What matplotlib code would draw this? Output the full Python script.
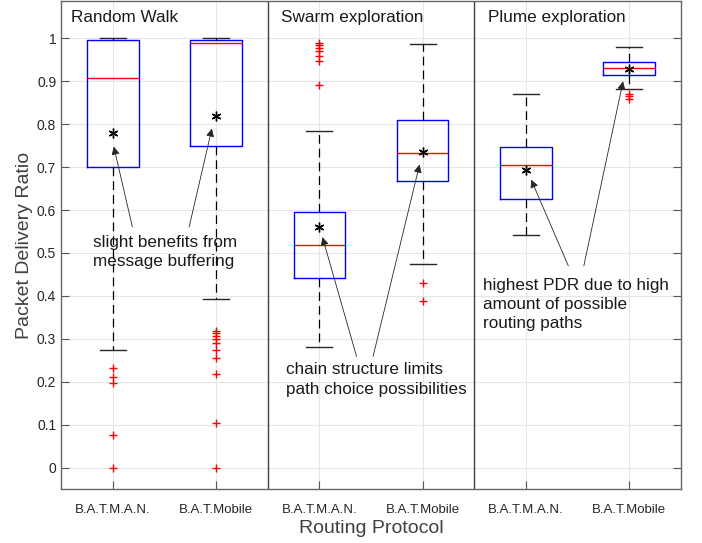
import matplotlib
matplotlib.use('Agg')
import matplotlib.pyplot as plt

plt.rcParams['font.family'] = ['Liberation Sans', 'DejaVu Sans']

# Box statistics (x = 1..6)
labels = ['B.A.T.M.A.N.', 'B.A.T.Mobile'] * 3
scenarios = ['Random Walk', 'Swarm exploration', 'Plume exploration']
whislo = [0.273, 0.392, 0.280, 0.475, 0.542, 0.883]
q1 = [0.700, 0.750, 0.442, 0.668, 0.626, 0.915]
med = [0.907, 0.990, 0.519, 0.733, 0.706, 0.932]
q3 = [0.997, 0.997, 0.596, 0.810, 0.748, 0.946]
whishi = [1.000, 1.000, 0.785, 0.988, 0.871, 0.981]
means = [0.780, 0.820, 0.561, 0.735, 0.693, 0.929]
fliers = [
    [0.231, 0.210, 0.196, 0.077, 0.0],
    [0.318, 0.313, 0.306, 0.299, 0.290, 0.275, 0.255, 0.218, 0.103, 0.0],
    [0.990, 0.984, 0.978, 0.970, 0.958, 0.947, 0.892],
    [0.430, 0.388],
    [],
    [0.871, 0.865, 0.859],
]

notes = [
    ('slight benefits from\nmessage buffering', (0.81, 0.503), [(1.19, 0.561, 1.01, 0.748), (1.74, 0.561, 1.96, 0.79)]),
    ('chain structure limits\npath choice possibilities', (2.68, 0.205), [(3.36, 0.259, 3.03, 0.537), (3.52, 0.259, 3.97, 0.706)]),
    ('highest PDR due to high\namount of possible\nrouting paths', (4.58, 0.38), [(5.41, 0.47, 5.05, 0.671), (5.56, 0.47, 5.94, 0.90)]),
]

def make_plot():
    fig = plt.figure(figsize=(7.02, 5.43), dpi=100)
    ax = fig.add_axes([0.087, 0.0994, 0.883, 0.8986])

    stats = []
    for i in range(6):
        stats.append(dict(whislo=whislo[i], q1=q1[i], med=med[i], q3=q3[i],
                          whishi=whishi[i], mean=means[i], fliers=fliers[i]))
    pos = list(range(1, 7))
    ax.bxp(stats, positions=pos, widths=0.5, showmeans=True,
           boxprops=dict(color='#0000ff', linewidth=1.0),
           medianprops=dict(color='#ff0000', linewidth=1.0),
           whiskerprops=dict(color='black', linestyle=(0, (7, 4)), linewidth=0.9),
           capprops=dict(color='#262626', linewidth=1.0),
           capwidths=0.25,
           flierprops=dict(marker='+', markeredgecolor='#ff0000', markersize=6, linestyle='none'),
           meanprops=dict(marker=(6, 2, 0), markerfacecolor='black', markeredgecolor='black',
                          markersize=7, markeredgewidth=1.0))

    ax.set_xlim(0.5, 6.5)
    ax.set_ylim(-0.05, 1.087)
    ax.set_yticks([i / 10 for i in range(11)])
    ax.set_yticklabels(['0'] + ['%.1f' % (i / 10) for i in range(1, 10)] + ['1'])
    ax.set_xticks(pos)
    ax.set_xticklabels(labels)
    ax.grid(True, color='#e6e6e6', linewidth=0.8)
    ax.set_axisbelow(True)
    ax.tick_params(direction='in', length=6, top=False, right=True, colors='#555555',
                   labelcolor='#262626', labelsize=10, width=0.8)
    ax.tick_params(axis='x', pad=11, labelsize=9.5)
    for s in ax.spines.values():
        s.set_color('#666666')
        s.set_linewidth(1.0)

    for xd in [2.5, 4.5]:
        ax.axvline(xd, color='#404040', linewidth=1.0)

    for k, name in enumerate(scenarios):
        ax.text([0.60, 2.63, 4.63][k], 1.048, name, fontsize=12.3, color='#1a1a1a', va='center')

    for txt, (tx, ty), arrows in notes:
        ax.text(tx, ty, txt, fontsize=12.3, color='#1a1a1a', va='center', linespacing=1.35)
        for x0, y0, x1, y1 in arrows:
            ax.annotate('', xy=(x1, y1), xytext=(x0, y0),
                        arrowprops=dict(arrowstyle='-|>', color='#262626', lw=0.6,
                                        mutation_scale=12, shrinkA=0, shrinkB=0))

    ax.set_ylabel('Packet Delivery Ratio', fontsize=14, color='#404040', labelpad=3)
    ax.set_xlabel('Routing Protocol', fontsize=14, color='#404040', labelpad=3)

    fig.savefig('out.png', dpi=100)

def main():
    make_plot()

if __name__ == '__main__':
    main()
